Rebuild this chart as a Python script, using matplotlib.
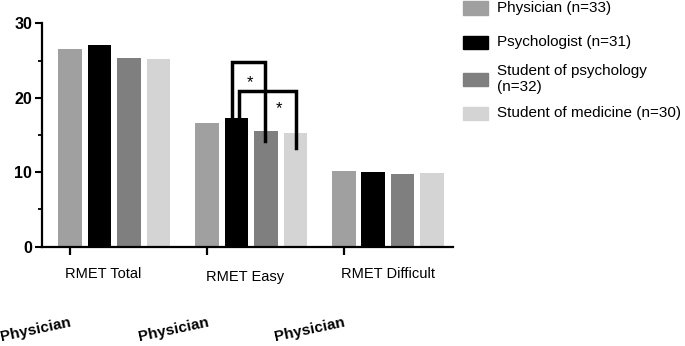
import matplotlib
matplotlib.use("Agg")
import matplotlib.pyplot as plt
from matplotlib.patches import Rectangle
from matplotlib.ticker import FixedLocator

plt.rcParams["font.family"] = ["Liberation Sans", "DejaVu Sans"]

# data
categories = ["RMET Total", "RMET Easy", "RMET Difficult"]
groups = ["Physician (n=33)", "Psychologist (n=31)",
          "Student of psychology\n(n=32)", "Student of medicine (n=30)"]
physician = [26.5, 16.6, 10.1]
psychologist = [27.1, 17.3, 10.0]
student_psych = [25.3, 15.6, 9.8]
student_med = [25.2, 15.3, 9.9]
series = [physician, psychologist, student_psych, student_med]
colors = ["#a0a0a0", "#000000", "#7f7f7f", "#d4d4d4"]
bottom_labels = ["Physician", "Physician", "Physician"]

# significance brackets in RMET Easy: (x_left, x_right, top, left_end, right_end, star_x, star_y)
brackets = [
    (5.50, 6.62, 24.8, 17.3, 14.2, 6.11, 22.0),
    (5.74, 7.68, 20.9, 17.3, 13.3, 7.10, 18.5),
]

group_step = 4.65
bar_step = 1.0
bar_width = 0.8

fig = plt.figure(figsize=(6.85, 3.46), dpi=100)
ax = fig.add_axes([41.7 / 685, 99.3 / 346, 411 / 685, 223.4 / 346])

for j, (vals, col) in enumerate(zip(series, colors)):
    xs = [i * group_step + j * bar_step for i in range(len(categories))]
    ax.bar(xs, vals, width=bar_width, color=col, zorder=2)

for xl, xr, top, le, re, sx, sy in brackets:
    ax.plot([xl, xl, xr, xr], [le, top, top, re], color="black", lw=2.5,
            solid_joinstyle="miter", zorder=3)
    ax.text(sx, sy, "*", ha="center", va="center", fontsize=12)

ax.set_xlim(-0.97, 13.0)
ax.set_ylim(0, 30)
ax.set_xticks([i * group_step for i in range(len(categories))])
ax.set_xticklabels([])
ax.tick_params(axis="x", direction="inout", length=11, width=1.6)
ax.set_yticks([0, 10, 20, 30])
ax.yaxis.set_minor_locator(FixedLocator([5, 15, 25]))
ax.tick_params(axis="y", which="major", direction="out", length=5, width=1.5,
               labelsize=11.5, pad=2)
ax.tick_params(axis="y", which="minor", direction="out", length=3, width=1.3)
for lab in ax.get_yticklabels():
    lab.set_fontweight("bold")
for s in ["top", "right"]:
    ax.spines[s].set_visible(False)
for s in ["left", "bottom"]:
    ax.spines[s].set_linewidth(1.6)

# category labels
cat_pos = [(103, 274), (245, 277), (388, 274)]
for name, (px, py) in zip(categories, cat_pos):
    fig.text(px / 685, 1 - py / 346, name, ha="center", va="center", fontsize=10.5)

# rotated bold labels at bottom
bot_pos = [(36, 330), (174, 330), (310, 330)]
for name, (px, py) in zip(bottom_labels, bot_pos):
    fig.text(px / 685, 1 - py / 346, name, ha="center", va="center",
             fontsize=11, fontweight="bold", rotation=12,
             rotation_mode="anchor")

# legend
leg_y = [8, 42, 79, 113]
for name, col, py in zip(groups, colors, leg_y):
    fig.patches.append(Rectangle((463 / 685, 1 - (py + 6.5) / 346), 25 / 685, 13 / 346,
                                 transform=fig.transFigure, color=col))
    fig.text(497 / 685, 1 - py / 346, name, ha="left", va="center",
             fontsize=11, linespacing=1.2)

fig.savefig("out.png", dpi=100)
